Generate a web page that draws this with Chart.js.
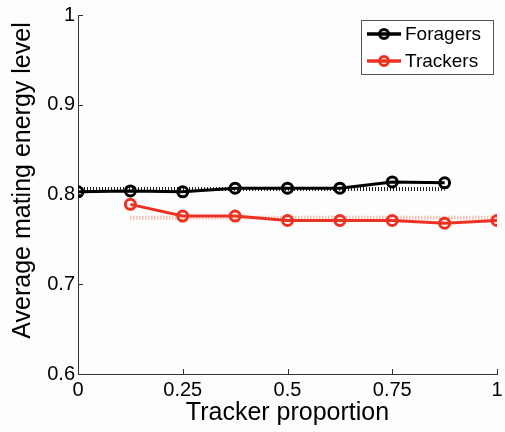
<!DOCTYPE html>
<html>
<head>
<meta charset="utf-8">
<script src="https://cdn.jsdelivr.net/npm/chart.js@4.4.1/dist/chart.umd.min.js"></script>
<style>
  html, body { margin: 0; padding: 0; background: #fdfdfd; }
  #wrap { width: 505px; height: 432px; }
</style>
</head>
<body>
<div id="wrap"><canvas id="myChart" width="505" height="432"></canvas></div>
<script>
// data
const proportions = [0, 0.125, 0.25, 0.375, 0.5, 0.625, 0.75, 0.875, 1];
const foragers = [0.803, 0.804, 0.803, 0.807, 0.807, 0.807, 0.814, 0.813, null];
const trackers = [null, 0.789, 0.776, 0.776, 0.771, 0.771, 0.771, 0.768, 0.771];
const foragerMean = 0.806;
const trackerMean = 0.774;
const xTicks = [0, 0.25, 0.5, 0.75, 1];
const yTicks = [0.6, 0.7, 0.8, 0.9, 1];
const yTitle = 'Average mating energy level';

const pts = (ys) => proportions.map((x, i) => ({x: x, y: ys[i]})).filter(p => p.y !== null);
const meanLine = (ys, m) => {
  const p = pts(ys);
  return [{x: p[0].x, y: m}, {x: p[p.length - 1].x, y: m}];
};
const fmt = (v) => String(+(+v).toFixed(2));

const font = 'Liberation Sans, Arial, Helvetica, sans-serif';

// inward tick marks, matlab style
const inwardTicks = {
  id: 'inwardTicks',
  afterDatasetsDraw(chart) {
    const {ctx, chartArea, scales} = chart;
    ctx.save();
    ctx.strokeStyle = '#333';
    ctx.lineWidth = 1;
    ctx.beginPath();
    xTicks.forEach(v => {
      const px = Math.round(scales.x.getPixelForValue(v)) + 0.5;
      ctx.moveTo(px, chartArea.bottom);
      ctx.lineTo(px, chartArea.bottom - 5);
    });
    yTicks.forEach(v => {
      const py = Math.round(scales.y.getPixelForValue(v)) + 0.5;
      ctx.moveTo(chartArea.left, py);
      ctx.lineTo(chartArea.left + 5, py);
    });
    ctx.stroke();
    ctx.restore();
  }
};

// y title drawn by hand (sits a bit above the axis centre in the original)
const yTitlePlugin = {
  id: 'yTitlePlugin',
  afterDraw(chart) {
    const {ctx, chartArea} = chart;
    ctx.save();
    ctx.translate(23, (chartArea.top + chartArea.bottom) / 2 - 14);
    ctx.rotate(-Math.PI / 2);
    ctx.fillStyle = '#000';
    ctx.font = '25px ' + font;
    ctx.textAlign = 'center';
    ctx.textBaseline = 'middle';
    ctx.fillText(yTitle, 0, 0);
    ctx.restore();
  }
};

// boxed legend in top-right corner
const boxLegend = {
  id: 'boxLegend',
  afterDraw(chart) {
    const {ctx, chartArea} = chart;
    const items = chart.data.datasets.filter(d => d.showInLegend);
    const w = 132, h = 54;
    const x0 = chartArea.right - 4 - w, y0 = chartArea.top + 5;
    ctx.save();
    ctx.fillStyle = '#ffffff';
    ctx.fillRect(x0, y0, w, h);
    ctx.strokeStyle = '#555';
    ctx.lineWidth = 1;
    ctx.strokeRect(x0 + 0.5, y0 + 0.5, w, h);
    items.forEach((d, i) => {
      const cy = y0 + 14 + i * 27;
      ctx.strokeStyle = d.borderColor;
      ctx.lineWidth = 3.5;
      ctx.beginPath();
      ctx.moveTo(x0 + 6, cy);
      ctx.lineTo(x0 + 40, cy);
      ctx.stroke();
      ctx.lineWidth = 3;
      ctx.beginPath();
      ctx.arc(x0 + 23, cy, 4.5, 0, Math.PI * 2);
      ctx.stroke();
      ctx.fillStyle = '#000';
      ctx.font = '19px ' + font;
      ctx.textBaseline = 'middle';
      ctx.textAlign = 'left';
      ctx.fillText(d.label, x0 + 44, cy + 1);
    });
    ctx.restore();
  }
};

const config = {
  type: 'line',
  data: {
    datasets: [
      {
        label: 'Foragers',
        showInLegend: true,
        data: pts(foragers),
        borderColor: '#000000',
        borderWidth: 3,
        pointRadius: 5,
        pointBorderWidth: 3,
        pointBackgroundColor: 'rgba(0,0,0,0)',
        pointBorderColor: '#000000',
        order: 0
      },
      {
        label: 'Trackers',
        showInLegend: true,
        data: pts(trackers),
        borderColor: '#ec3323',
        borderWidth: 3,
        pointRadius: 5,
        pointBorderWidth: 3,
        pointBackgroundColor: 'rgba(0,0,0,0)',
        pointBorderColor: '#ec3323',
        order: 0
      },
      {
        label: 'Foragers mean',
        data: meanLine(foragers, foragerMean),
        borderColor: '#222222',
        borderWidth: 4,
        borderDash: [1, 2],
        pointRadius: 0,
        order: 1
      },
      {
        label: 'Trackers mean',
        data: meanLine(trackers, trackerMean),
        borderColor: '#f3a08a',
        borderWidth: 4,
        borderDash: [1, 2],
        pointRadius: 0,
        order: 1
      }
    ]
  },
  options: {
    responsive: false,
    animation: false,
    events: [],
    layout: { padding: { top: 14, right: 5, left: 0, bottom: 0 } },
    plugins: {
      legend: { display: false },
      tooltip: { enabled: false }
    },
    scales: {
      x: {
        type: 'linear',
        min: 0,
        max: 1,
        afterBuildTicks: (s) => { s.ticks = xTicks.map(v => ({value: v})); },
        afterFit: (s) => { s.height = 58; s.paddingRight = 0; s.paddingLeft = 0; },
        grid: { drawOnChartArea: false, drawTicks: false },
        border: { display: true, color: '#333', width: 1 },
        ticks: { color: '#000', padding: 4, font: { family: font, size: 20 }, maxRotation: 0, callback: fmt },
        title: { display: true, text: 'Tracker proportion', color: '#000', padding: { top: 0 }, font: { family: font, size: 25 } }
      },
      y: {
        min: 0.6,
        max: 1,
        afterBuildTicks: (s) => { s.ticks = yTicks.map(v => ({value: v})); },
        afterFit: (s) => { s.width = 78; },
        grid: { drawOnChartArea: false, drawTicks: false },
        border: { display: true, color: '#333', width: 1 },
        ticks: { color: '#000', padding: 3, font: { family: font, size: 20 }, callback: fmt },
        title: { display: false }
      }
    }
  },
  plugins: [inwardTicks, yTitlePlugin, boxLegend]
};

const myChart = new Chart(document.getElementById('myChart').getContext('2d'), config);
</script>
</body>
</html>
